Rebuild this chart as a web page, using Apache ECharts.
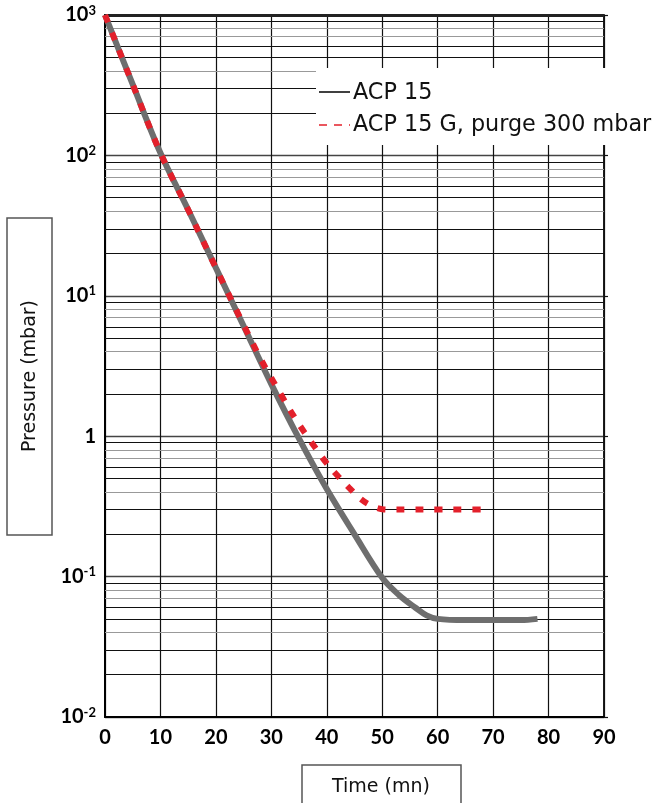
<!DOCTYPE html>
<html><head><meta charset="utf-8">
<script src="https://cdn.jsdelivr.net/npm/echarts@6/dist/echarts.min.js"></script>
<style>html,body{margin:0;padding:0;background:#fff}#c{width:665px;height:803px}</style>
</head><body><div id="c"></div>
<script>
// ---- data ----
const xTicks = [0,10,20,30,40,50,60,70,80,90];
const yDecades = [0.01,0.1,1,10,100,1000];
const acpTime  = [0, 5, 10, 15, 20, 25, 30, 35, 40, 45, 50, 53, 56, 58, 60, 65, 70, 75, 78];
const acpPress = [1000, 320, 104, 41, 15.8, 6.1, 2.35, 0.96, 0.42, 0.2, 0.098, 0.074, 0.06, 0.053, 0.05, 0.049, 0.049, 0.049, 0.05];
const acpgTime  = [0, 5, 10, 15, 20, 25, 28, 30, 32, 34, 36, 38, 40, 42, 44, 46, 48, 50, 52, 55, 60, 65, 68.5];
const acpgPress = [1000, 320, 104, 41, 15.8, 6.2, 3.6, 2.6, 1.9, 1.4, 1.06, 0.82, 0.64, 0.52, 0.43, 0.36, 0.32, 0.302, 0.3, 0.3, 0.3, 0.3, 0.3];
const seriesNames = ['ACP 15', 'ACP 15 G, purge 300 mbar'];

// minor grid lines (2..9 of each decade)
const minorColor = {2:'#111',3:'#111',4:'#999',5:'#111',6:'#111',7:'#999',8:'#999',9:'#111'};
const gridLines = [];
for (let k = -2; k < 3; k++) {
  for (let m = 2; m <= 9; m++) {
    gridLines.push({yAxis: m * Math.pow(10, k), lineStyle: {color: minorColor[m], width: 1.2, type: 'solid'}});
  }
}
gridLines.push({yAxis: 1000, lineStyle: {color: '#222', width: 3, type: 'solid'}});

const chart = echarts.init(document.getElementById('c'), null, {renderer: 'canvas'});
const FONT = 'Lato, "Open Sans", sans-serif';
const TFONT = '"DejaVu Sans", sans-serif';
chart.setOption({
  animation: false,
  backgroundColor: '#fff',
  grid: {left: 105, right: 61, top: 15, bottom: 86, show: true, borderColor: '#111', borderWidth: 1.5},
  xAxis: {
    type: 'value', min: 0, max: 90, interval: 10,
    axisLine: {show: true, onZero: false, lineStyle: {color: '#000', width: 2}},
    axisTick: {show: false},
    splitLine: {show: true, lineStyle: {color: '#111', width: 1.2}},
    axisLabel: {color: '#000', fontSize: 20, fontWeight: 'bold', fontFamily: FONT, margin: 11,
      formatter: v => xTicks.includes(v) ? String(v) : ''}
  },
  yAxis: [{
    type: 'log', logBase: 10, min: 0.01, max: 1000,
    axisLine: {show: true, lineStyle: {color: '#000', width: 2}},
    axisTick: {show: false},
    splitLine: {show: true, lineStyle: {color: '#444', width: 1.4}},
    axisLabel: {
      color: '#000', fontFamily: FONT, margin: 9,
      formatter: v => {
        const e = Math.round(Math.log10(v));
        if (e === 0) return '{b|1}';
        return '{b|10}{s|' + e + '}';
      },
      rich: {
        b: {fontSize: 20, fontWeight: 'bold', fontFamily: FONT, color: '#000'},
        s: {fontSize: 13, fontWeight: 'bold', fontFamily: FONT, color: '#000', padding: [0, 0, 9, 0]}
      }
    }
  }, {
    type: 'log', logBase: 10, min: 0.01, max: 1000, position: 'right',
    axisLine: {show: true, lineStyle: {color: '#111', width: 1.5}},
    axisTick: {show: true, length: 4, lineStyle: {color: '#111', width: 1.2}},
    axisLabel: {show: false}, splitLine: {show: false}
  }],
  series: [
    {
      name: seriesNames[0], type: 'line', showSymbol: false, smooth: 0.35, z: 3,
      data: acpTime.map((t, i) => [t, acpPress[i]]),
      lineStyle: {color: '#6e6e6e', width: 6, cap: 'butt'},
      markLine: {silent: true, symbol: 'none', label: {show: false}, animation: false, z: 1, data: gridLines}
    },
    {
      name: seriesNames[1], type: 'line', showSymbol: false, smooth: 0.35, z: 4,
      data: acpgTime.map((t, i) => [t, acpgPress[i]]),
      lineStyle: {color: '#e3202b', width: 6, type: [8, 11], cap: 'butt'}
    }
  ],
  graphic: [
    {type: 'rect', z: 100, shape: {x: 316, y: 68, width: 349, height: 77}, style: {fill: '#fff'}},
    {type: 'line', z: 101, shape: {x1: 319, y1: 92, x2: 350, y2: 92}, style: {stroke: '#000', lineWidth: 1.5}},
    {type: 'line', z: 101, shape: {x1: 319, y1: 125, x2: 350, y2: 125}, style: {stroke: '#e3202b', lineWidth: 1.5, lineDash: [8, 7]}},
    {type: 'text', z: 101, x: 353, y: 93, style: {text: seriesNames[0], font: '22.3px ' + TFONT, fill: '#111', textVerticalAlign: 'middle'}},
    {type: 'text', z: 101, x: 353, y: 125, style: {text: seriesNames[1], font: '22.3px ' + TFONT, fill: '#111', textVerticalAlign: 'middle'}},
    {type: 'rect', z: 100, shape: {x: 7, y: 218, width: 45, height: 317}, style: {fill: '#fff', stroke: '#555', lineWidth: 1.5}},
    {type: 'text', z: 101, x: 30, y: 376, rotation: Math.PI / 2,
      style: {text: 'Pressure (mbar)', font: '19px ' + TFONT, fill: '#111', textAlign: 'center', textVerticalAlign: 'middle'}},
    {type: 'rect', z: 100, shape: {x: 302, y: 765, width: 159, height: 45}, style: {fill: '#fff', stroke: '#555', lineWidth: 1.5}},
    {type: 'text', z: 101, x: 381, y: 787,
      style: {text: 'Time (mn)', font: '19px ' + TFONT, fill: '#111', textAlign: 'center', textVerticalAlign: 'middle'}}
  ]
});
</script></body></html>
